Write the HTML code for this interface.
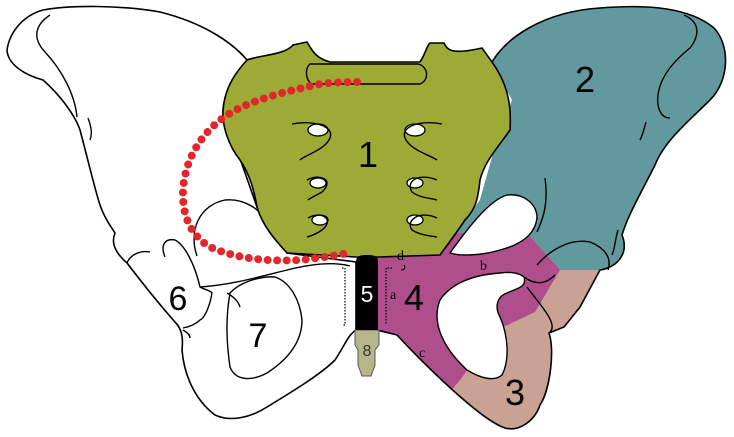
<!DOCTYPE html>
<html><head><meta charset="utf-8"><style>
html,body{margin:0;padding:0;background:#fff;width:734px;height:437px;overflow:hidden}
svg{display:block}
text{font-family:"Liberation Sans",sans-serif}
.s{font-family:"Liberation Serif",serif;font-size:14px}
</style></head><body>
<svg width="734" height="437" viewBox="0 0 734 437" xmlns="http://www.w3.org/2000/svg">
<defs>
<clipPath id="rb"><path d="M492,62 C505,40 540,12 600,8 C650,4 690,8 714,28 C730,45 730,80 710,100 C690,120 665,140 655,165 C640,195 628,215 622,235 C630,255 615,268 600,270 L580,307 L564,327 L549,333 C555,350 550,390 540,405 C535,420 520,432 505,428 C480,420 420,360 397,335 L377,330 L377,257 L440,255 L480,200 L494,150 L512,100 Z"/></clipPath>
</defs>
<path d="M247,60 C230,40 200,22 160,12 C120,5 70,5 43,10 C25,15 10,30 7,50 C8,65 25,75 43,80 C60,95 75,115 80,130 C88,160 95,190 100,205 C105,220 112,228 115,233 C110,245 118,255 127,263 C140,280 160,305 175,322 C183,330 183,340 182,350 C184,375 195,400 215,415 C230,422 250,418 267,407 C290,393 320,375 335,360 C345,345 348,335 356,330 L356,262 L287,253 L257,207 L223,110 Z" fill="#fff" stroke="#000" stroke-width="1.6"/>
<g fill="none" stroke="#000" stroke-width="1.4">
<path d="M50,15 C35,25 32,38 45,52 C62,70 75,95 77,117"/>
<path d="M88,118 C92,128 92,135 90,140"/>
<path d="M197,256 C188,230 200,205 225,200 C245,198 262,210 272,228"/>
<path d="M165,257 C160,245 165,238 175,240 C185,245 195,265 200,287 C205,290 210,290 212,293 C210,305 205,318 200,320 C195,325 188,327 183,328"/>
<path d="M127,263 C130,255 140,250 150,252"/>
<path d="M200,287 C230,285 255,278 287,270 C315,263 335,262 350,266"/>
<path d="M230,293 C240,282 260,276 275,277 C290,282 300,300 302,320 C302,340 290,358 267,373 C250,382 235,380 230,367 C226,340 226,315 230,293 Z" fill="#fff"/>
<path d="M227,293 C232,296 238,300 240,307"/>
<path d="M183,330 C188,333 190,335 190,338"/>
</g>
<path d="M342,268 L345,268 L345,325 L342,325" fill="none" stroke="#000" stroke-width="1.2" stroke-dasharray="1.5 1.5"/>
<g clip-path="url(#rb)">
<rect x="360" y="0" width="374" height="437" fill="#c9a293"/>
<polygon points="370,230 527,233 560,270 535,312 497,330 460,380 450,392 370,392" fill="#ae4f8c"/>
<polygon points="370,0 734,0 734,270 560,270 527,233 370,233" fill="#62999f"/>
</g>
<path d="M492,62 C505,40 540,12 600,8 C650,4 690,8 714,28 C730,45 730,80 710,100 C690,120 665,140 655,165 C640,195 628,215 622,235 C630,255 615,268 600,270 L580,307 L564,327 L549,333 C555,350 550,390 540,405 C535,420 520,432 505,428 C480,420 420,360 397,335 L377,330" fill="none" stroke="#000" stroke-width="1.6"/>
<g fill="none" stroke="#000" stroke-width="1.4">
<path d="M684,15 C700,22 700,35 690,48 C675,60 655,80 658,105 C660,115 665,118 670,118"/>
<path d="M646,122 C644,130 642,136 640,140"/>
<path d="M545,178 C548,200 545,215 537,232"/>
<path d="M537,265 C550,250 570,238 590,242 C605,248 612,258 608,270"/>
<path d="M618,230 C615,240 615,248 612,255"/>
<path d="M500,273 C470,275 450,285 440,300 C432,320 440,345 467,370 C480,378 494,382 502,375 C510,360 508,335 500,317 C495,308 496,297 507,293 C518,288 527,287 524,277 C518,272 508,272 500,273 Z" fill="#fff"/>
<path d="M524,277 C535,285 545,285 555,275"/>
<path d="M527,287 C540,305 560,325 549,333"/>
</g>
<path d="M450,253 C470,225 490,200 507,195 C525,193 537,205 537,218 C535,235 520,245 500,250 C480,256 460,256 450,253 Z" fill="#fff" stroke="#000" stroke-width="1.4"/>
<path d="M247,60 C260,55 285,55 293,45 L307,42 C312,50 315,58 330,62 L420,62 C425,55 427,45 430,43 L444,43 C447,50 452,55 482,48 L492,62 C505,80 512,100 510,130 C500,145 485,160 480,180 C478,200 475,210 465,220 C455,235 445,248 440,255 L378,257 L356,257 L287,253 C275,240 262,225 257,207 C254,190 250,175 240,160 C228,145 222,125 223,110 C225,85 238,70 247,60 Z" fill="#9dab36" stroke="#000" stroke-width="1.6"/>
<path d="M310,64 L418,64 C428,66 430,80 420,84 L312,84 C305,80 305,68 310,64 Z" fill="#9dab36" stroke="#000" stroke-width="1.4"/>
<g fill="#fff" stroke="#000" stroke-width="1.3">
<ellipse cx="318" cy="130" rx="10" ry="6"/><ellipse cx="318" cy="183" rx="8" ry="5"/><ellipse cx="320" cy="220" rx="8" ry="5"/>
<ellipse cx="415" cy="130" rx="10" ry="6"/><ellipse cx="415" cy="183" rx="8" ry="5"/><ellipse cx="415" cy="220" rx="8" ry="5"/>
</g>
<g fill="none" stroke="#000" stroke-width="1.4">
<path d="M292,124 C310,120 335,125 330,138 C325,150 305,155 300,160"/>
<path d="M307,180 C320,173 335,180 322,192 C315,196 310,198 308,200"/>
<path d="M308,218 C322,210 335,220 322,230 C315,235 310,236 307,237"/>
<path d="M442,124 C424,120 400,125 405,138 C410,150 430,155 437,160"/>
<path d="M437,180 C420,173 405,180 412,192 C420,198 430,198 437,200"/>
<path d="M437,218 C420,210 405,220 412,230 C420,235 430,236 437,237"/>
</g>
<path d="M355,330 L379,330 L379,345 L375,350 L375,365 L371,376 L362,376 L358,365 L358,350 L355,345 Z" fill="#b7b689" stroke="#555" stroke-width="1"/>
<text x="367" y="356" font-size="16" text-anchor="middle" fill="#333">8</text>
<path d="M356,262 C356,256 360,255 367,255 C374,255 378,256 378,262 L378,330 L356,330 Z" fill="#000"/>
<text x="367" y="302" font-size="23" text-anchor="middle" fill="#fff">5</text>
<path d="M392,268 L386,268 L386,325" fill="none" stroke="#000" stroke-width="1.2" stroke-dasharray="1.5 1.5"/>
<path d="M404,265 C406,268 404,270 401,270" fill="none" stroke="#000" stroke-width="1"/>
<path d="M357,82 C340,82 320,83 307,87 C270,95 240,105 223,118 C200,135 185,160 183,190 C182,215 190,235 210,247 C235,258 265,262 300,260 C320,258 340,255 352,252" fill="none" stroke="#e3262a" stroke-width="8" stroke-linecap="round" stroke-dasharray="0 9.5"/>
<text x="368" y="167" font-size="36" text-anchor="middle">1</text>
<text x="585" y="92" font-size="36" text-anchor="middle">2</text>
<text x="515" y="405" font-size="36" text-anchor="middle">3</text>
<text x="414" y="310" font-size="36" text-anchor="middle">4</text>
<text x="178" y="310" font-size="34" text-anchor="middle">6</text>
<text x="258" y="347" font-size="34" text-anchor="middle">7</text>
<text class="s" x="390" y="299">a</text>
<text class="s" x="480" y="270">b</text>
<text class="s" x="419" y="357">c</text>
<text class="s" x="397" y="260">d</text>
</svg>
</body></html>
